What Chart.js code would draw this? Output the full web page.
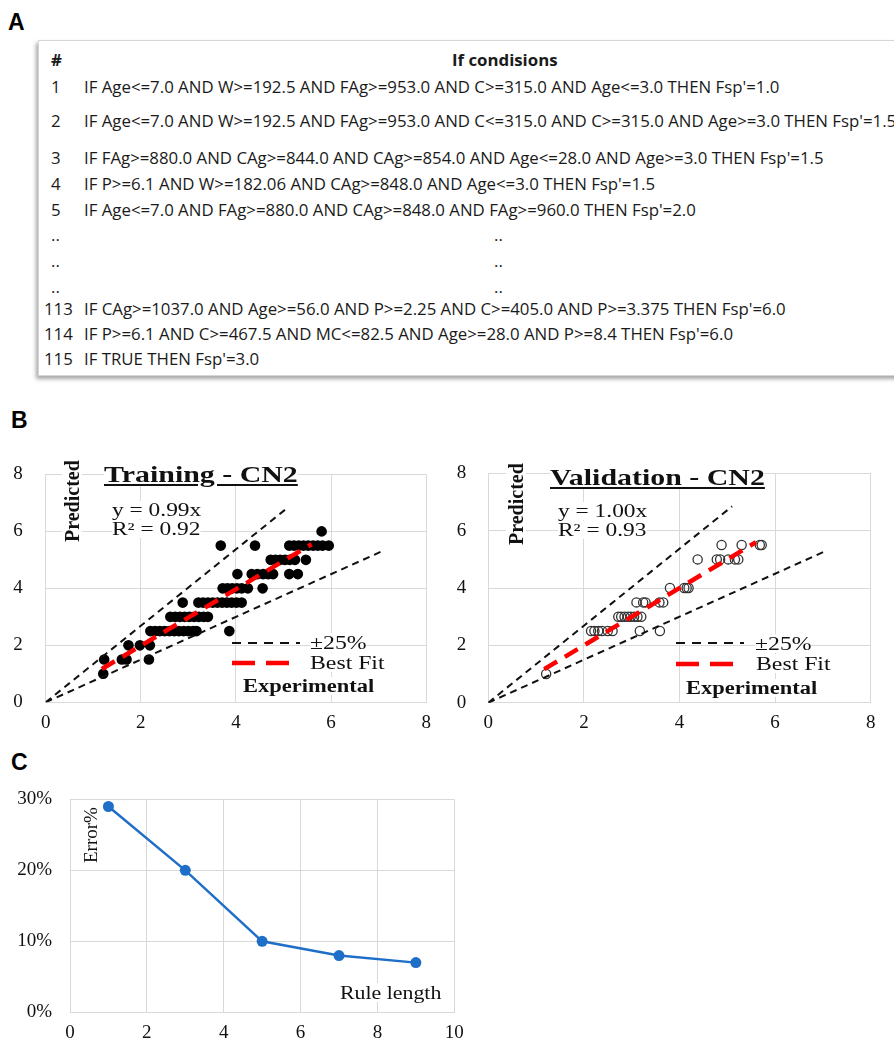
<!DOCTYPE html>
<html>
<head>
<meta charset="utf-8">
<script src="https://cdn.jsdelivr.net/npm/chart.js@4.4.1/dist/chart.umd.min.js"></script>
<style>
  body { margin: 0; background: #fff; width: 894px; height: 1043px; overflow: hidden; position: relative; }
  .panel { position: absolute; font: bold 23px "Liberation Sans", Arial, sans-serif; }
  .box { position: absolute; left: 38px; top: 40px; width: 900px; height: 334px; border: 1px solid #d6d6d6;
         box-shadow: -2px 3px 4px rgba(0,0,0,0.35); background: #fff; }
  .row { position: absolute; font: 16px "Open Sans", sans-serif; color: #1a1a1a; white-space: nowrap;
         transform: scaleX(1.05); transform-origin: 0 0; }
  .num { left: 51px; }
  .rule { left: 84px; }
  .hd { font-weight: bold; }
  canvas { position: absolute; }
  .note { position: absolute; font-family: "Liberation Serif", serif; color: #111; white-space: nowrap;
          background: #fff; transform-origin: 0 0; line-height: 1; }
  .ttl { font-size: 23px; font-weight: bold; text-decoration: underline; transform: scaleX(1.3); }
  .eq { font-size: 18px; transform: scaleX(1.3); }
  .vert { font-size: 20px; font-weight: bold; transform: rotate(-90deg); transform-origin: 0 0; }
  .leg { font-size: 19px; transform: scaleX(1.25); }
  .legb { font-size: 18px; font-weight: bold; transform: scaleX(1.25); }
  svg { position: absolute; }
</style>
</head>
<body>

<div class="panel" style="left:8px;top:9px">A</div>
<div class="box"></div>
<div id="rules"></div>

<div class="panel" style="left:11px;top:407px">B</div>
<canvas id="train" width="440" height="300" style="left:0;top:440px"></canvas>
<canvas id="valid" width="450" height="300" style="left:444px;top:440px"></canvas>

<div class="panel" style="left:11px;top:749px">C</div>
<canvas id="rule" width="480" height="273" style="left:0;top:770px"></canvas>

<!-- chart B notes -->
<div class="note vert" style="left:62px;top:542px">Predicted</div>
<div class="note ttl" style="left:104px;top:463px">Training - CN2</div>
<div class="note eq" style="left:112px;top:501px">y = 0.99x</div>
<div class="note eq" style="left:112px;top:520px">R² = 0.92</div>
<div class="note leg" style="left:310px;top:633px">±25%</div>
<div class="note leg" style="left:310px;top:653px">Best Fit</div>
<div class="note legb" style="left:243px;top:677px">Experimental</div>
<svg style="left:228px;top:632px" width="80" height="40">
  <line x1="4" y1="11" x2="72" y2="11" stroke="#111" stroke-width="2" stroke-dasharray="9 7"/>
  <line x1="4" y1="31" x2="62" y2="31" stroke="#f00" stroke-width="4.5" stroke-dasharray="23 11"/>
</svg>

<div class="note vert" style="left:506px;top:545px">Predicted</div>
<div class="note ttl" style="left:550px;top:466px">Validation - CN2</div>
<div class="note eq" style="left:558px;top:502px">y = 1.00x</div>
<div class="note eq" style="left:558px;top:521px">R² = 0.93</div>
<div class="note leg" style="left:755px;top:634px">±25%</div>
<div class="note leg" style="left:756px;top:654px">Best Fit</div>
<div class="note legb" style="left:686px;top:679px">Experimental</div>
<svg style="left:672px;top:632px" width="80" height="40">
  <line x1="4" y1="11" x2="72" y2="11" stroke="#111" stroke-width="2" stroke-dasharray="9 7"/>
  <line x1="4" y1="32" x2="62" y2="32" stroke="#f00" stroke-width="4.5" stroke-dasharray="23 11"/>
</svg>

<!-- chart C notes -->
<div class="note" style="left:81px;top:863px;font-size:19px;transform:rotate(-90deg)">Error%</div>
<div class="note" style="left:340px;top:983px;font-size:19px;transform:scaleX(1.15)">Rule length</div>

<script>
// panel A rules
const ruleNums = ['1', '2', '3', '4', '5', '..', '..', '..', '113', '114', '115'];
const ruleTexts = [
  "IF Age<=7.0 AND W>=192.5 AND FAg>=953.0 AND C>=315.0 AND Age<=3.0 THEN Fsp'=1.0",
  "IF Age<=7.0 AND W>=192.5 AND FAg>=953.0 AND C<=315.0 AND C>=315.0 AND Age>=3.0 THEN Fsp'=1.5",
  "IF FAg>=880.0 AND CAg>=844.0 AND CAg>=854.0 AND Age<=28.0 AND Age>=3.0 THEN Fsp'=1.5",
  "IF P>=6.1 AND W>=182.06 AND CAg>=848.0 AND Age<=3.0 THEN Fsp'=1.5",
  "IF Age<=7.0 AND FAg>=880.0 AND CAg>=848.0 AND FAg>=960.0 THEN Fsp'=2.0",
  '..', '..', '..',
  "IF CAg>=1037.0 AND Age>=56.0 AND P>=2.25 AND C>=405.0 AND P>=3.375 THEN Fsp'=6.0",
  "IF P>=6.1 AND C>=467.5 AND MC<=82.5 AND Age>=28.0 AND P>=8.4 THEN Fsp'=6.0",
  "IF TRUE THEN Fsp'=3.0"
];
const ruleRowY = [88, 122, 159, 185, 211, 236, 262, 288, 310, 335, 360];

// panel B: training points (x = experimental, y = predicted)
const trainX = [
  1.21,
  1.23, 1.60, 1.70, 2.17,
  1.74, 1.98, 2.19,
  2.20, 2.30, 2.40, 2.50, 2.60, 2.70, 2.80, 2.90, 3.00, 3.10, 3.17, 3.86,
  2.62, 2.72, 2.82, 2.92, 3.02, 3.12, 3.22, 3.32, 3.41,
  2.88, 3.21, 3.31, 3.41, 3.51, 3.61, 3.71, 3.81, 3.91, 4.01, 4.12,
  3.72, 3.82, 3.92, 4.02, 4.12, 4.25, 4.56,
  4.03, 4.33, 4.45, 4.57, 4.68, 4.78, 5.12, 5.30,
  4.73, 4.83, 4.93, 5.03, 5.13, 5.24, 5.47,
  3.68, 4.40, 5.12, 5.22, 5.32, 5.42, 5.52, 5.62, 5.72, 5.82, 5.95,
  5.80
];
const trainY = [
  1.0,
  1.5, 1.5, 1.5, 1.5,
  2.0, 2.0, 2.0,
  2.5, 2.5, 2.5, 2.5, 2.5, 2.5, 2.5, 2.5, 2.5, 2.5, 2.5, 2.5,
  3.0, 3.0, 3.0, 3.0, 3.0, 3.0, 3.0, 3.0, 3.0,
  3.5, 3.5, 3.5, 3.5, 3.5, 3.5, 3.5, 3.5, 3.5, 3.5, 3.5,
  4.0, 4.0, 4.0, 4.0, 4.0, 4.0, 4.0,
  4.5, 4.5, 4.5, 4.5, 4.5, 4.5, 4.5, 4.5,
  5.0, 5.0, 5.0, 5.0, 5.0, 5.0, 5.0,
  5.5, 5.5, 5.5, 5.5, 5.5, 5.5, 5.5, 5.5, 5.5, 5.5, 5.5,
  6.0
];
const trainFitX = [1.18, 5.59];
const trainFitY = [1.17, 5.55];

// panel B: validation points
const validX = [
  1.21,
  2.15, 2.22, 2.30, 2.38, 2.50, 2.60, 3.17, 3.59,
  2.72, 2.78, 2.85, 2.92, 2.98, 3.05, 3.12, 3.20,
  3.10, 3.24, 3.29, 3.58, 3.66,
  3.80, 4.10, 4.15, 4.19,
  4.38, 4.78, 4.85, 5.02, 5.16, 5.23,
  4.88, 5.30, 5.68, 5.72
];
const validY = [
  1.0,
  2.5, 2.5, 2.5, 2.5, 2.5, 2.5, 2.5, 2.5,
  3.0, 3.0, 3.0, 3.0, 3.0, 3.0, 3.0, 3.0,
  3.5, 3.5, 3.5, 3.5, 3.5,
  4.0, 4.0, 4.0, 4.0,
  5.0, 5.0, 5.0, 5.0, 5.0, 5.0,
  5.5, 5.5, 5.5, 5.5
];
const validFitX = [1.17, 5.6];
const validFitY = [1.17, 5.6];

// +-25% bands
const upperBandX = [0, 5.1];
const upperBandY = [0, 6.85];
const lowerBandX = [0, 7.04];
const lowerBandY = [0, 5.28];

// panel C
const ruleLength = [1, 3, 5, 7, 9];
const errorPct = [29, 20, 10, 8, 7];

// build rule table
const rulesDiv = document.getElementById('rules');
function addRow(cls, left, y, text) {
  const d = document.createElement('div');
  d.className = 'row ' + cls;
  d.style.top = (y - 12) + 'px';
  if (left != null) d.style.left = left + 'px';
  d.textContent = text;
  rulesDiv.appendChild(d);
}
addRow('num hd', null, 61, '#');
addRow('hd', 452, 61, 'If condisions');
for (let i = 0; i < ruleNums.length; i++) {
  const y = ruleRowY[i];
  if (ruleNums[i].length === 3) addRow('', 44, y, ruleNums[i]);
  else addRow('num', null, y, ruleNums[i]);
  if (ruleTexts[i] === '..') addRow('', 494, y, '..');
  else addRow('rule', null, y, ruleTexts[i]);
}

const serif = 'Liberation Serif';
const gridCol = '#d9d9d9';

function pairs(xs, ys) {
  return xs.map((x, i) => ({ x: x, y: ys[i] }));
}

function scatterChart(id, xs, ys, fitX, fitY, filled, box) {
  const ctx = document.getElementById(id).getContext('2d');
  return new Chart(ctx, {
    type: 'scatter',
    data: {
      datasets: [
        { data: pairs(fitX, fitY), showLine: true, borderColor: '#ff0000', borderWidth: 4.5,
          borderDash: [15, 9], pointRadius: 0, order: 0 },
        { data: pairs(upperBandX, upperBandY), showLine: true, borderColor: '#111', borderWidth: 2,
          borderDash: [7, 5], pointRadius: 0, order: 1 },
        { data: pairs(lowerBandX, lowerBandY), showLine: true, borderColor: '#111', borderWidth: 2,
          borderDash: [7, 5], pointRadius: 0, order: 1 },
        { data: pairs(xs, ys), pointRadius: filled ? 5.3 : 4.6, pointBorderWidth: filled ? 0 : 1.3,
          pointBackgroundColor: filled ? '#000' : 'rgba(0,0,0,0)', pointBorderColor: filled ? '#000' : '#333',
          order: 2 }
      ]
    },
    options: {
      responsive: false,
      animation: false,
      devicePixelRatio: 1,
      layout: { padding: { left: 0, top: box.top, right: box.right, bottom: 0 } },
      plugins: { legend: { display: false }, tooltip: { enabled: false } },
      scales: {
        x: {
          type: 'linear', min: 0, max: 8,
          ticks: { stepSize: 2, color: '#111', padding: 9, font: { family: serif, size: 19 } },
          grid: { color: gridCol, drawTicks: false },
          border: { color: gridCol },
          afterFit: s => { s.height = box.xh; }
        },
        y: {
          type: 'linear', min: 0, max: 8,
          ticks: { stepSize: 2, color: '#111', padding: box.ypad, font: { family: serif, size: 19 } },
          grid: { color: gridCol, drawTicks: false },
          border: { color: gridCol },
          afterFit: s => { s.width = box.yw; }
        }
      }
    }
  });
}

scatterChart('train', trainX, trainY, trainFitX, trainFitY, true,
  { top: 16, right: 13.3, xh: 37.7, yw: 45.7, ypad: 23 });
scatterChart('valid', validX, validY, validFitX, validFitY, false,
  { top: 16.7, right: 23.3, xh: 37.3, yw: 44.3, ypad: 22 });

new Chart(document.getElementById('rule').getContext('2d'), {
  type: 'scatter',
  data: {
    datasets: [{
      data: pairs(ruleLength, errorPct),
      showLine: true,
      borderColor: '#1f6fc8',
      backgroundColor: '#1f6fc8',
      borderWidth: 2.5,
      pointRadius: 5.5,
      pointBorderWidth: 0
    }]
  },
  options: {
    responsive: false,
    animation: false,
    devicePixelRatio: 1,
    layout: { padding: { left: 0, top: 24, right: 25.7, bottom: 0 } },
    plugins: { legend: { display: false }, tooltip: { enabled: false } },
    scales: {
      x: {
        type: 'linear', min: 0, max: 10,
        ticks: { stepSize: 2, color: '#111', padding: 9, font: { family: serif, size: 19 } },
        grid: { color: gridCol, drawTicks: false },
        border: { color: gridCol },
        afterFit: s => { s.height = 30.7; }
      },
      y: {
        type: 'linear', min: 0, max: 30,
        ticks: { stepSize: 10, color: '#111', padding: 18, font: { family: serif, size: 19 },
                 callback: v => v + '%' },
        grid: { color: gridCol, drawTicks: false },
        border: { color: gridCol },
        afterFit: s => { s.width = 70; }
      }
    }
  }
});
</script>
</body>
</html>
